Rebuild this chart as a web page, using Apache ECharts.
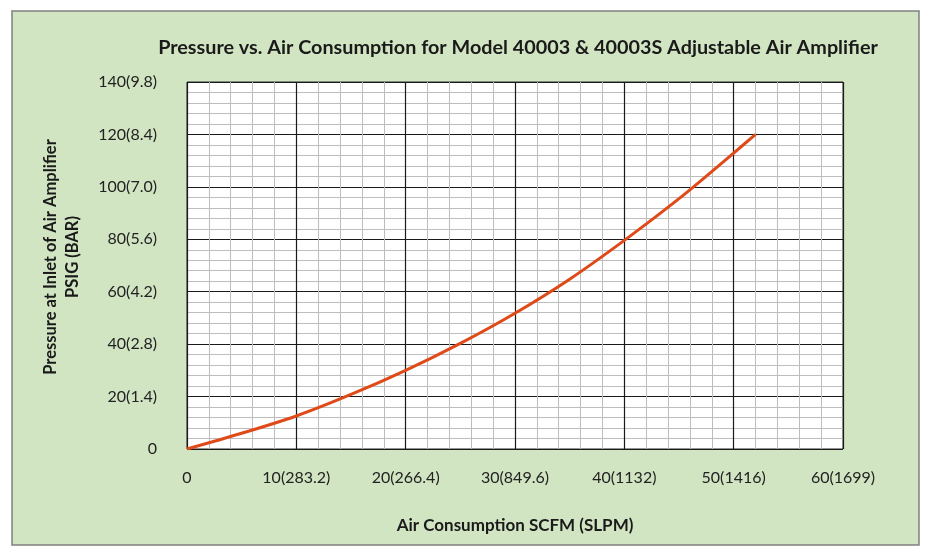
<!DOCTYPE html>
<html>
<head>
<meta charset="utf-8">
<script src="https://cdn.jsdelivr.net/npm/echarts@6/dist/echarts.min.js"></script>
<style>
html,body{margin:0;padding:0;background:#fff;}
#chart{width:932px;height:558px;}
</style>
</head>
<body>
<div id="chart"></div>
<script>
// Data
const airScfm = [0, 5, 10, 15, 20, 25, 30, 35, 40, 45, 50, 52];
const pressurePsig = [0, 6, 12.6, 20.8, 30, 40.3, 51.8, 64.8, 79.6, 95.5, 112.9, 120];
const xTickLabels = ['0', '10(283.2)', '20(266.4)', '30(849.6)', '40(1132)', '50(1416)', '60(1699)'];
const yTickLabels = ['0', '20(1.4)', '40(2.8)', '60(4.2)', '80(5.6)', '100(7.0)', '120(8.4)', '140(9.8)'];
const titleText = 'Pressure vs. Air Consumption for Model 40003 & 40003S Adjustable Air Amplifier';
const xName = 'Air Consumption SCFM (SLPM)';
const yName = 'Pressure at Inlet of Air Amplifier\nPSIG (BAR)';

const seriesData = airScfm.map((x, i) => [x, pressurePsig[i]]);
const FONT = 'Lato';

const chart = echarts.init(document.getElementById('chart'), null, {renderer: 'canvas'});
chart.setOption({
  backgroundColor: '#ffffff',
  animation: false,
  textStyle: {fontFamily: FONT},
  graphic: [
    {
      type: 'rect', z: -10, silent: true,
      shape: {x: 12, y: 11, width: 907, height: 534},
      style: {fill: '#d2e5c3', stroke: '#808080', lineWidth: 1.5}
    },
    {
      type: 'text', z: 10, silent: true,
      x: 62, y: 257, rotation: Math.PI / 2,
      style: {
        text: yName, fontFamily: FONT, fontWeight: 'bold', fontSize: 16.5,
        fill: '#1a1a1a', align: 'center', verticalAlign: 'middle', lineHeight: 22
      }
    }
  ],
  title: {
    text: titleText,
    left: 513, top: 33, textAlign: 'center',
    textStyle: {fontFamily: FONT, fontWeight: 'bold', fontSize: 19.8, color: '#1a1a1a'}
  },
  grid: {
    left: 187, top: 82, right: 89, bottom: 109,
    show: true, backgroundColor: '#ffffff', borderColor: '#2a2a2a', borderWidth: 1
  },
  xAxis: {
    type: 'value', min: 0, max: 60, interval: 10,
    name: xName, nameLocation: 'middle', nameGap: 68,
    nameTextStyle: {fontFamily: FONT, fontWeight: 'bold', fontSize: 17, color: '#1a1a1a'},
    axisLine: {show: false}, axisTick: {show: false},
    axisLabel: {
      margin: 21, fontFamily: FONT, fontSize: 16, color: '#222',
      formatter: v => xTickLabels[Math.round(v / 10)]
    },
    splitLine: {show: true, lineStyle: {color: '#1a1a1a', width: 1.2}},
    minorTick: {show: false, splitNumber: 5},
    minorSplitLine: {show: true, lineStyle: {color: '#bdbdbd', width: 1}}
  },
  yAxis: {
    type: 'value', min: 0, max: 140, interval: 20,
    axisLine: {show: false}, axisTick: {show: false},
    axisLabel: {
      margin: 30, fontFamily: FONT, fontSize: 16, color: '#222',
      formatter: v => yTickLabels[Math.round(v / 20)]
    },
    splitLine: {show: true, lineStyle: {color: '#1a1a1a', width: 1.2}},
    minorTick: {show: false, splitNumber: 5},
    minorSplitLine: {show: true, lineStyle: {color: '#bdbdbd', width: 1}}
  },
  series: [{
    type: 'line',
    data: seriesData,
    smooth: 0.3,
    showSymbol: false,
    lineStyle: {color: '#df4a18', width: 3},
    z: 5
  }]
});
</script>
</body>
</html>
